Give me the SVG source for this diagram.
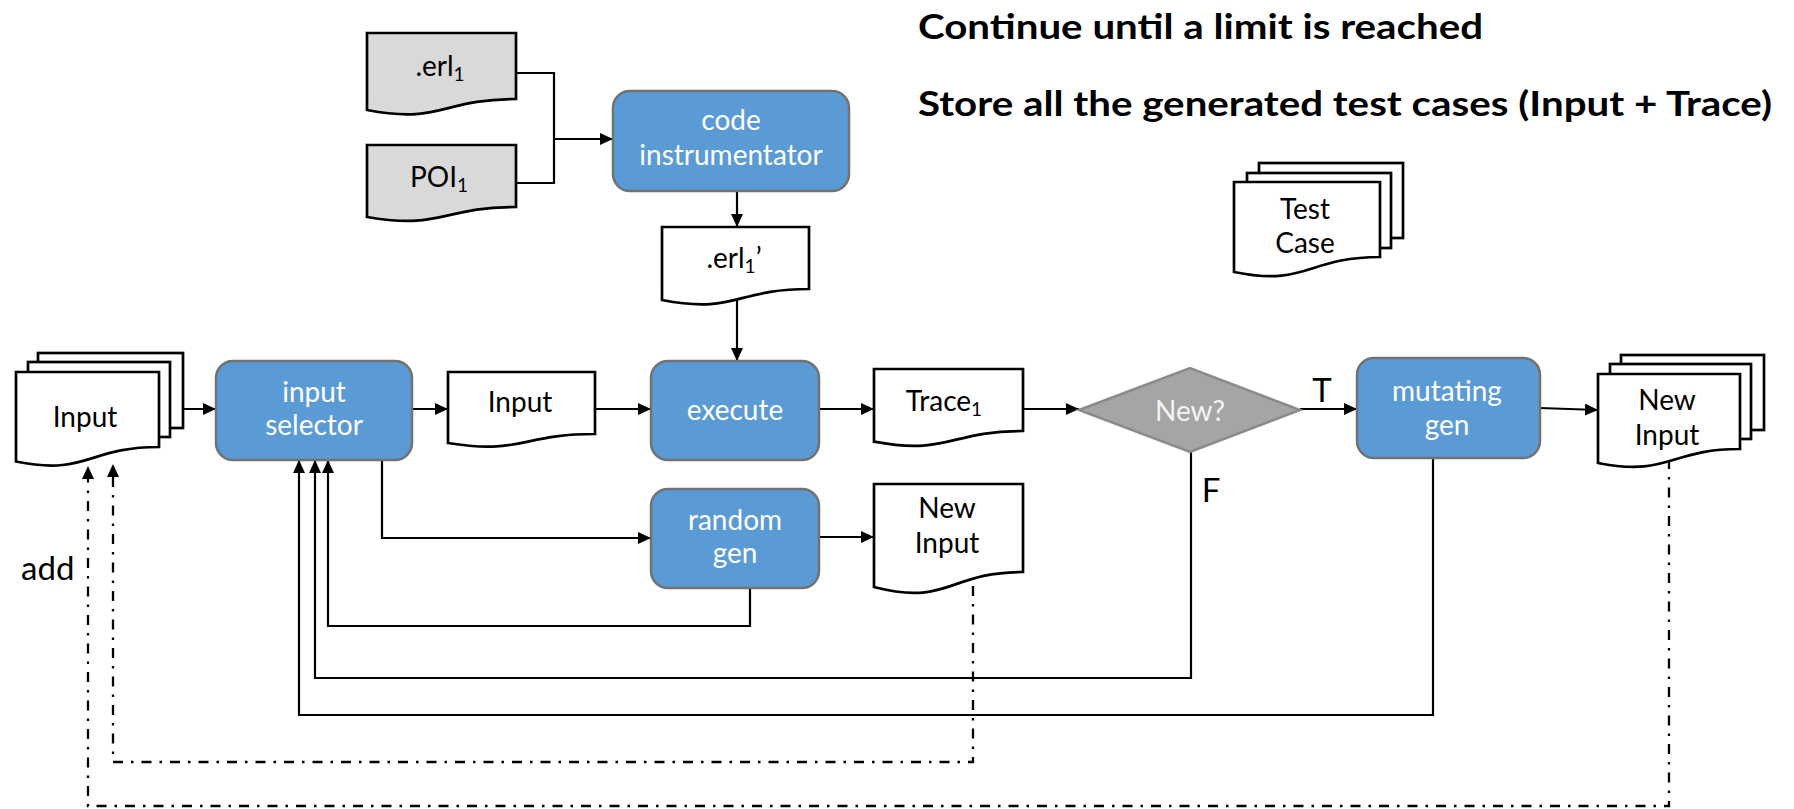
<svg xmlns="http://www.w3.org/2000/svg" width="1794" height="809" viewBox="0 0 1794 809">
  <defs>
    <style>
      .proc { fill: #5B9BD5; stroke: #727272; stroke-width: 2.5; }
      .doc { fill: #FFFFFF; stroke: #000000; stroke-width: 2.7; stroke-linejoin: miter; }
      .doc.src { fill: #D9D9D9; }
      .dec { fill: #A5A5A5; stroke: #8A8A8A; stroke-width: 2.5; }
      .lbl { font-family: Lato, "Open Sans", "Liberation Sans", sans-serif; font-size: 28px; text-anchor: middle; fill: #000000; }
      .lbl.w { fill: #FFFFFF; }
      .lbl.g { fill: #F4F4F4; }
      .sub { font-size: 19px; }
      .big { font-family: Lato, "Open Sans", "Liberation Sans", sans-serif; font-size: 33px; fill: #000000; }
      .head { font-family: Lato, "Open Sans", "Liberation Sans", sans-serif; font-size: 34px; font-weight: 700; fill: #000000; }
      .wire { fill: none; stroke: #000000; stroke-width: 2.2; }
      .dashdot { fill: none; stroke: #000000; stroke-width: 2.3; stroke-dasharray: 10 8 2.5 8; }
    </style>
    <marker id="arrow" markerWidth="13" markerHeight="12" refX="13" refY="6" orient="auto" markerUnits="userSpaceOnUse">
      <path d="M0,0 L13,6 L0,12 Z" fill="#000000"/>
    </marker>
  </defs>

  <!-- headings -->
  <text class="head" x="918" y="39" textLength="565" lengthAdjust="spacingAndGlyphs">Continue until a limit is reached</text>
  <text class="head" x="918" y="116" textLength="854" lengthAdjust="spacingAndGlyphs">Store all the generated test cases (Input + Trace)</text>

  <!-- connectors -->
  <g id="connectors">
    <path class="wire" d="M516,73 H554 V183 H516"/>
    <path class="wire" d="M554,139 H613" marker-end="url(#arrow)"/>
    <path class="wire" d="M737,191 V227" marker-end="url(#arrow)"/>
    <path class="wire" d="M737,300 V361" marker-end="url(#arrow)"/>
    <path class="wire" d="M183,409 H216" marker-end="url(#arrow)"/>
    <path class="wire" d="M412,409 H448" marker-end="url(#arrow)"/>
    <path class="wire" d="M595,409 H651" marker-end="url(#arrow)"/>
    <path class="wire" d="M819,409 H874" marker-end="url(#arrow)"/>
    <path class="wire" d="M1023,409 H1079" marker-end="url(#arrow)"/>
    <path class="wire" d="M1300,409 H1357" marker-end="url(#arrow)"/>
    <path class="wire" d="M1540,408 L1598,410" marker-end="url(#arrow)"/>
    <path class="wire" d="M382,460 V538 H651" marker-end="url(#arrow)"/>
    <path class="wire" d="M819,537 H874" marker-end="url(#arrow)"/>
    <path class="wire" d="M750,588 V626 H328 V460" marker-end="url(#arrow)"/>
    <path class="wire" d="M1191,452 V678 H315 V460" marker-end="url(#arrow)"/>
    <path class="wire" d="M1433,458 V715 H299 V460" marker-end="url(#arrow)"/>
    <path class="dashdot" d="M973,586 V762 H113 V464" marker-end="url(#arrow)"/>
    <path class="dashdot" d="M1669,459 V806 H88 V466" marker-end="url(#arrow)"/>
    <text class="big" x="1322" y="402" text-anchor="middle">T</text>
    <text class="big" x="1211" y="502" text-anchor="middle">F</text>
    <text class="big" x="21" y="580">add</text>
  </g>

  <!-- source documents -->
  <g id="erl-src">
    <path class="doc src" d="M367,33 H516 V99 C441.5,99 441.5,124.3 367,110 Z"/>
    <text class="lbl" x="440" y="76">.erl<tspan class="sub" dy="5">1</tspan></text>
  </g>
  <g id="poi-src">
    <path class="doc src" d="M367,145 H516 V207 C441.5,207 441.5,230 367,217 Z"/>
    <text class="lbl" x="439" y="187">POI<tspan class="sub" dy="5">1</tspan></text>
  </g>

  <g id="code-instrumentator">
    <rect class="proc" x="613" y="91" width="236" height="100" rx="17"/>
    <text class="lbl w" x="731" y="130">code</text>
    <text class="lbl w" x="731" y="165">instrumentator</text>
  </g>

  <g id="erl-instrumented">
    <path class="doc" d="M662,227 H809 V289 C735.5,289 735.5,314.3 662,300 Z"/>
    <text class="lbl" x="734" y="268">.erl<tspan class="sub" dy="5">1</tspan><tspan dy="-5">’</tspan></text>
  </g>

  <!-- input pool -->
  <g id="input-pool">
    <rect class="doc" x="38" y="353" width="145" height="75"/>
    <rect class="doc" x="28" y="362" width="142" height="75"/>
    <path class="doc" d="M16,372 H159 V447 C87.5,447 87.5,476 16,461.5 Z"/>
    <text class="lbl" x="85" y="427">Input</text>
  </g>

  <g id="input-selector">
    <rect class="proc" x="216" y="361" width="196" height="99" rx="17"/>
    <text class="lbl w" x="314" y="402">input</text>
    <text class="lbl w" x="314" y="435">selector</text>
  </g>

  <g id="input">
    <path class="doc" d="M448,372 H595 V434 C521.5,434 521.5,455 448,443 Z"/>
    <text class="lbl" x="520" y="412">Input</text>
  </g>

  <g id="execute">
    <rect class="proc" x="651" y="361" width="168" height="99" rx="17"/>
    <text class="lbl w" x="735" y="420">execute</text>
  </g>

  <g id="trace">
    <path class="doc" d="M874,369 H1023 V431 C948.5,431 948.5,455.6 874,441.7 Z"/>
    <text class="lbl" x="944" y="411">Trace<tspan class="sub" dy="5">1</tspan></text>
  </g>

  <g id="is-new">
    <path class="dec" d="M1079,410 L1190,368 L1300,410 L1190,452 Z"/>
    <text class="lbl g" x="1190" y="421">New?</text>
  </g>

  <g id="mutating-gen">
    <rect class="proc" x="1357" y="358" width="183" height="100" rx="17"/>
    <text class="lbl w" x="1447" y="401">mutating</text>
    <text class="lbl w" x="1447" y="435">gen</text>
  </g>

  <g id="new-input-pool">
    <rect class="doc" x="1621" y="355" width="143" height="75"/>
    <rect class="doc" x="1610" y="364" width="141" height="75"/>
    <path class="doc" d="M1598,374 H1740 V449 C1669,449 1669,477 1598,463 Z"/>
    <text class="lbl" x="1667" y="410">New</text>
    <text class="lbl" x="1667" y="445">Input</text>
  </g>

  <g id="random-gen">
    <rect class="proc" x="651" y="489" width="168" height="99" rx="17"/>
    <text class="lbl w" x="735" y="530">random</text>
    <text class="lbl w" x="735" y="563">gen</text>
  </g>

  <g id="new-input">
    <path class="doc" d="M874,484 H1023 V572 C948.5,572 948.5,606.5 874,587 Z"/>
    <text class="lbl" x="947" y="518">New</text>
    <text class="lbl" x="947" y="553">Input</text>
  </g>

  <g id="test-case">
    <rect class="doc" x="1259" y="163" width="144" height="75"/>
    <rect class="doc" x="1247" y="173" width="144" height="75"/>
    <path class="doc" d="M1234,182 H1380 V257 C1307,257 1307,287 1234,272 Z"/>
    <text class="lbl" x="1305" y="219">Test</text>
    <text class="lbl" x="1305" y="253">Case</text>
  </g>
</svg>
